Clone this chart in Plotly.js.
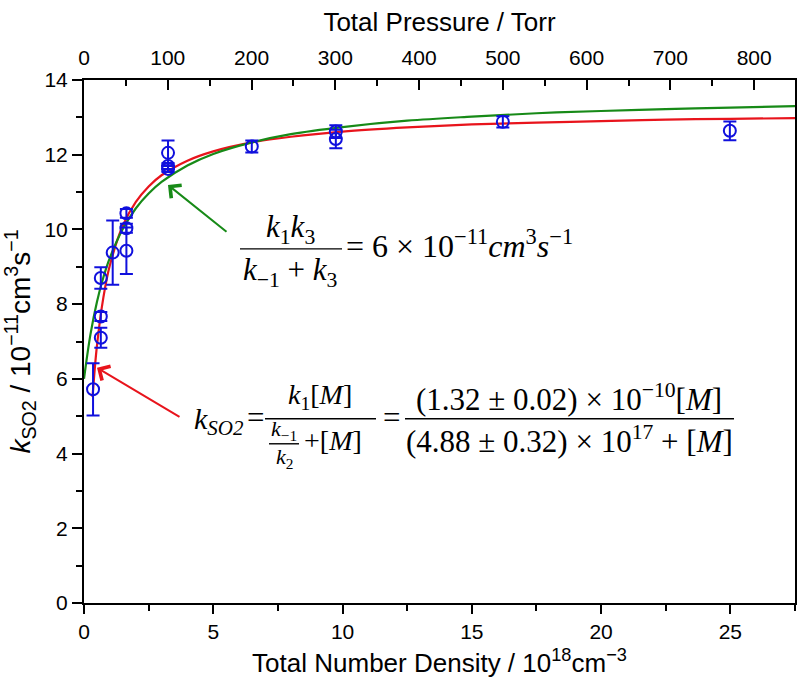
<!DOCTYPE html>
<html>
<head>
<meta charset="utf-8">
<script src="https://cdn.plot.ly/plotly-3.0.1.min.js"></script>
<style>
html,body{margin:0;padding:0;background:#fff;}
#chart{width:799px;height:689px;}
</style>
</head>
<body>
<div id="chart"></div>
<script>
// ---- data ----
const numberDensity = [0.35, 0.65, 0.65, 0.65, 1.11, 1.64, 1.64, 1.64, 3.25, 3.25, 3.25, 6.49, 9.74, 9.74, 16.2, 24.98];
const kSO2          = [5.72, 7.10, 7.67, 8.70, 9.38, 9.43, 10.03, 10.43, 12.05, 11.70, 11.62, 12.22, 12.62, 12.42, 12.88, 12.64];
const kErr          = [0.70, 0.27, 0.12, 0.29, 0.86, 0.62, 0.12, 0.12, 0.33, 0.08, 0.08, 0.16, 0.17, 0.25, 0.15, 0.25];
const pressureTorr  = [10, 20, 20, 20, 35, 50, 50, 50, 100, 100, 100, 200, 300, 300, 500, 770];

const redX   = [0.33, 0.5, 0.75, 1, 1.5, 2, 2.5, 3, 4, 5, 6.5, 8, 10, 12.5, 15, 17.5, 20, 22.5, 25, 27.5];
const redY   = [5.51, 6.88, 8.18, 9.04, 10.10, 10.73, 11.15, 11.45, 11.84, 12.09, 12.33, 12.48, 12.62, 12.73, 12.81, 12.86, 12.90, 12.94, 12.96, 12.98];
const greenX = [0, 0.25, 0.5, 0.75, 1, 1.5, 2, 2.5, 3, 4, 5, 6.5, 8, 10, 12.5, 15, 17.5, 20, 22.5, 25, 27.5];
const greenY = [6.00, 7.19, 8.06, 8.72, 9.24, 10.01, 10.56, 10.96, 11.27, 11.71, 12.02, 12.33, 12.55, 12.74, 12.91, 13.02, 13.11, 13.17, 13.22, 13.26, 13.30];

const xTickVals = [0, 5, 10, 15, 20, 25];
const yTickVals = [0, 2, 4, 6, 8, 10, 12, 14];
const torrTickVals = [0, 100, 200, 300, 400, 500, 600, 700, 800];

// ---- geometry helpers (pixel -> data) ----
const L = 84, R = 795, T = 80, B = 603.3;
const XMAX = 27.5, YMAX = 14;
const TORR_PER_UNIT = 100 / 3.24;
function X(px){ return (px - L) / (R - L) * XMAX; }
function Y(py){ return (B - py) / (B - T) * YMAX; }

const BLUE = '#1010dd', RED = '#e8141c', GREEN = '#178a17';
const SERIF = 'Liberation Serif, Times New Roman, serif';
const SANS = 'Arial, Liberation Sans, sans-serif';

const traces = [
  {x: redX, y: redY, mode: 'lines', line: {color: RED, width: 2.2, shape: 'spline'}, hoverinfo: 'skip', showlegend: false},
  {x: greenX, y: greenY, mode: 'lines', line: {color: GREEN, width: 2.2, shape: 'spline'}, hoverinfo: 'skip', showlegend: false},
  {x: numberDensity, y: kSO2, mode: 'markers',
   marker: {symbol: 'circle-open', size: 12, color: BLUE, line: {width: 2, color: BLUE}},
   error_y: {type: 'data', array: kErr, visible: true, color: BLUE, thickness: 2, width: 6.5},
   showlegend: false},
  {x: pressureTorr, y: kSO2, xaxis: 'x2', mode: 'markers', marker: {opacity: 0}, hoverinfo: 'skip', showlegend: false}
];

const eqFont = {family: SERIF, size: 31, color: '#000'};
const eqBig = {family: SERIF, size: 32, color: '#000'};
const eqK = {family: SERIF, size: 30, color: '#000'};
const eqMid = {family: SERIF, size: 28, color: '#000'};
const eqSmall = {family: SERIF, size: 22, color: '#000'};
function txt(text, px, py, font, xanchor){
  return {text: text, x: X(px), y: Y(py), xref: 'x', yref: 'y', showarrow: false,
          font: font, xanchor: xanchor || 'center', yanchor: 'middle'};
}
function bar(px0, px1, py){
  return {type: 'line', xref: 'x', yref: 'y', x0: X(px0), x1: X(px1), y0: Y(py), y1: Y(py),
          line: {color: '#000', width: 1.4}};
}

const annotations = [
  // arrows
  {x: X(168), y: Y(185), ax: X(228), ay: Y(233), xref: 'x', yref: 'y', axref: 'x', ayref: 'y',
   text: '', showarrow: true, arrowhead: 4, arrowsize: 1.6, arrowwidth: 2, arrowcolor: GREEN},
  {x: X(97), y: Y(368), ax: X(181), ay: Y(418), xref: 'x', yref: 'y', axref: 'x', ayref: 'y',
   text: '', showarrow: true, arrowhead: 4, arrowsize: 1.6, arrowwidth: 2, arrowcolor: RED},
  // equation 1
  txt('<i>k</i><sub>1</sub><i>k</i><sub>3</sub>', 290, 229, eqFont),
  txt('<i>k</i><sub>−1</sub> + <i>k</i><sub>3</sub>', 290, 272, eqFont),
  txt('= 6 × 10<sup>−11</sup><i>cm</i><sup>3</sup><i>s</i><sup>−1</sup>', 344, 244, eqBig, 'left'),
  // equation 2
  txt('<i>k<sub>SO2</sub></i>', 192, 421, eqK, 'left'),
  txt('=', 255, 418, eqFont),
  txt('<i>k</i><sub>1</sub>[<i>M</i>]', 320, 397, eqMid),
  txt('<i>k</i><sub>−1</sub>', 284, 430, eqSmall),
  txt('<i>k</i><sub>2</sub>', 284, 458, eqSmall),
  txt('+[<i>M</i>]', 302, 441, eqMid, 'left'),
  txt('=', 391, 418, eqFont),
  txt('(1.32 ± 0.02) × 10<sup>−10</sup>[<i>M</i>]', 569, 398, eqFont),
  txt('(4.88 ± 0.32) × 10<sup>17</sup> + [<i>M</i>]', 569, 440, eqFont)
];

const shapes = [
  bar(240, 342, 249),
  bar(265, 376, 419),
  bar(269, 299, 444),
  bar(405, 734, 419)
];

const layout = {
  width: 799, height: 689,
  margin: {l: L, r: 799 - R, t: T, b: 689 - B},
  paper_bgcolor: '#fff', plot_bgcolor: '#fff',
  font: {family: SANS, color: '#000', size: 21},
  showlegend: false,
  xaxis: {
    range: [0, XMAX], tickvals: xTickVals, ticks: 'outside', ticklen: 9, tickwidth: 1.6, tickcolor: '#000',
    showline: true, linewidth: 2, linecolor: '#000', mirror: false, showgrid: false, zeroline: false,
    tickfont: {size: 21},
    minor: {dtick: 2.5, ticks: 'outside', ticklen: 6, tickwidth: 1.6, tickcolor: '#000', showgrid: false},
    title: {text: 'Total Number Density / 10<sup>18</sup>cm<sup>−3</sup>', font: {size: 26}, standoff: 12}
  },
  xaxis2: {
    overlaying: 'x', side: 'top', anchor: 'y', range: [0, XMAX * TORR_PER_UNIT],
    tickvals: torrTickVals, ticks: 'inside', ticklen: 10, tickwidth: 1.6, tickcolor: '#000',
    showline: true, linewidth: 2, linecolor: '#000', showgrid: false, zeroline: false,
    tickfont: {size: 21}, ticklabelstandoff: 5,
    minor: {dtick: 50, ticks: 'inside', ticklen: 6, tickwidth: 1.6, tickcolor: '#000', showgrid: false},
    title: {text: 'Total Pressure / Torr', font: {size: 26}, standoff: 6}
  },
  yaxis: {
    range: [0, YMAX], tickvals: yTickVals, ticks: 'outside', ticklen: 10, tickwidth: 1.6, tickcolor: '#000',
    showline: true, linewidth: 2, linecolor: '#000', mirror: true, showgrid: false, zeroline: false,
    tickfont: {size: 21},
    minor: {dtick: 1, ticks: 'outside', ticklen: 6, tickwidth: 1.6, tickcolor: '#000', showgrid: false},
    title: {text: '<i>k</i><sub>SO2</sub> / 10<sup>−11</sup>cm<sup>3</sup>s<sup>−1</sup>', font: {size: 28}, standoff: 7}
  },
  annotations: annotations,
  shapes: shapes
};

Plotly.newPlot('chart', traces, layout, {displayModeBar: false});
</script>
</body>
</html>
